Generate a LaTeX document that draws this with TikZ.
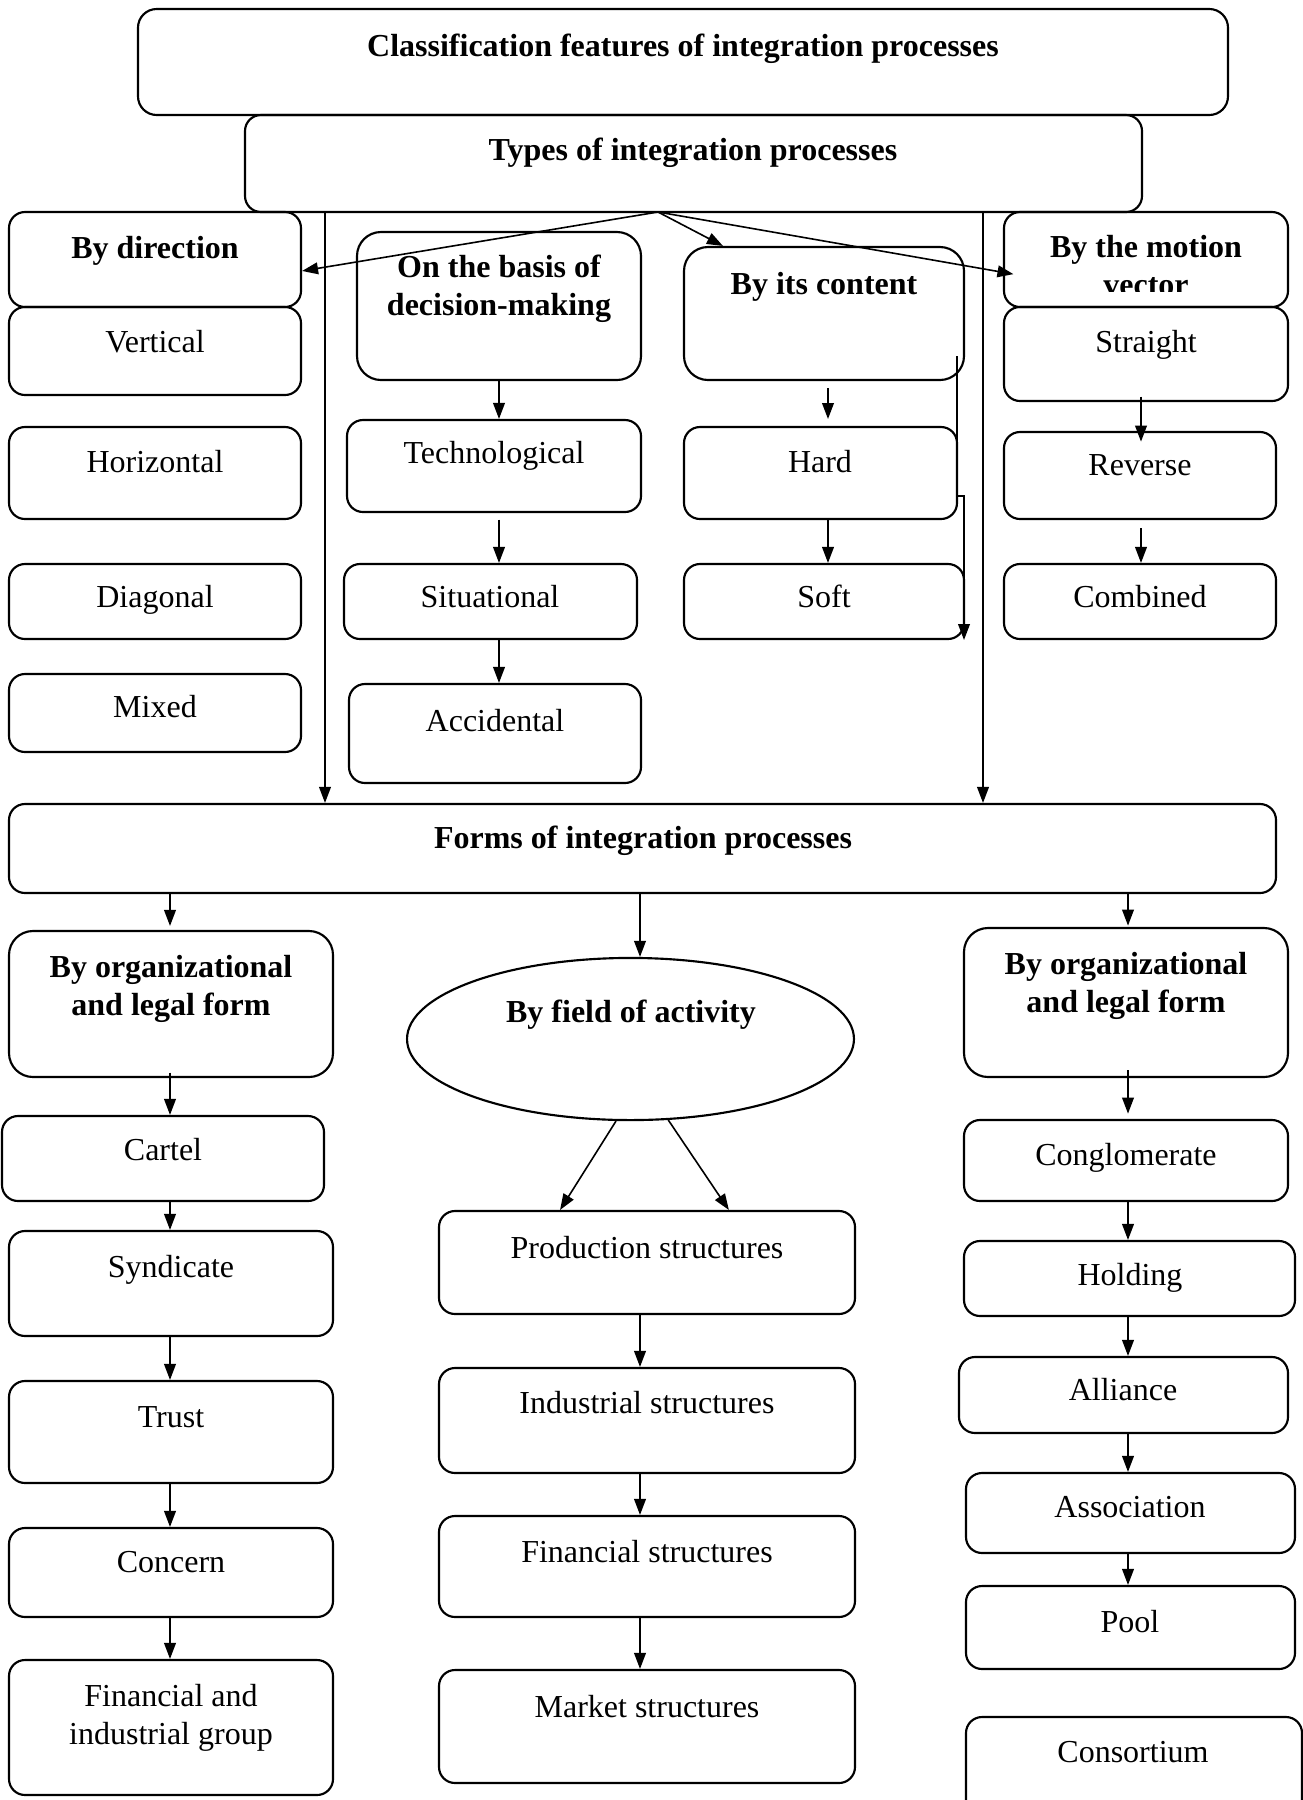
\documentclass[tikz,border=0pt]{standalone}
\usepackage{fontspec}
\setmainfont{Liberation Serif}
\usetikzlibrary{arrows.meta,fit,shapes.geometric}

\tikzset{every picture/.style={line width=0.5pt}}
\tikzset{
  box/.style={draw, line width=0.8pt, rounded corners=6pt, inner sep=0pt},
  bigbox/.style={box, rounded corners=9pt},
  txt/.style={anchor=base, inner sep=0pt, align=center, font=\fontsize{12}{13.9}\selectfont},
  head/.style={txt, font=\fontsize{12}{13.9}\selectfont\bfseries},
  arr/.style={-{Triangle[length=6pt,width=4.4pt]}, line width=0.6pt},
}

\begin{document}
\begin{tikzpicture}[x=0.375pt,y=0.375pt,yscale=-1,xscale=1]
    \useasboundingbox (0,0) rectangle (1303,1800);

    %Shape: top boxes
    \node[box, rounded corners=7pt, fit={(138,9)(1228,115)}] (cls) {};
    \node[box, fit={(245,115)(1142,212)}] (types) {};

    %Shape: by direction column
    \node[box, fit={(9,212)(301,307)}] (dir) {};
    \node[box, fit={(9,307)(301,395)}] (vert) {};
    \node[box, fit={(9,427)(301,519)}] (horiz) {};
    \node[box, fit={(9,564)(301,639)}] (diag) {};
    \node[box, fit={(9,674)(301,752)}] (mixed) {};

    %Shape: decision-making column
    \node[bigbox, fit={(357,232)(641,380)}] (basis) {};
    \node[box, fit={(347,420)(641,512)}] (tech) {};
    \node[box, fit={(344,564)(637,639)}] (sit) {};
    \node[box, fit={(349,684)(641,783)}] (acc) {};

    %Shape: content column
    \node[bigbox, fit={(684,247)(964,380)}] (cont) {};
    \node[box, fit={(684,427)(957,519)}] (hard) {};
    \node[box, fit={(684,564)(964,639)}] (soft) {};

    %Shape: motion vector column
    \node[box, fit={(1004,212)(1288,307)}] (motion) {};
    \node[box, fit={(1004,307)(1288,401)}] (straight) {};
    \node[box, fit={(1004,432)(1276,519)}] (rev) {};
    \node[box, fit={(1004,564)(1276,639)}] (comb) {};

    %Shape: forms
    \node[box, fit={(9,804)(1276,893)}] (forms) {};

    %Shape: left column
    \node[bigbox, fit={(9,931)(333,1077)}] (orgl) {};
    \node[box, fit={(2,1116)(324,1201)}] (cartel) {};
    \node[box, fit={(9,1231)(333,1336)}] (synd) {};
    \node[box, fit={(9,1381)(333,1483)}] (trust) {};
    \node[box, fit={(9,1528)(333,1617)}] (concern) {};
    \node[box, fit={(9,1660)(333,1795)}] (fig) {};

    %Shape: middle column
    \node[draw, ellipse, line width=0.8pt, inner sep=0pt, minimum width=167.6pt, minimum height=60.8pt] (field) at (630.5,1039) {};
    \node[box, fit={(439,1211)(855,1314)}] (prod) {};
    \node[box, fit={(439,1368)(855,1473)}] (ind) {};
    \node[box, fit={(439,1516)(855,1617)}] (fin) {};
    \node[box, fit={(439,1670)(855,1783)}] (market) {};

    %Shape: right column
    \node[bigbox, fit={(964,928)(1288,1077)}] (orgr) {};
    \node[box, fit={(964,1120)(1288,1201)}] (congl) {};
    \node[box, fit={(964,1241)(1295,1316)}] (hold) {};
    \node[box, fit={(959,1357)(1288,1433)}] (alli) {};
    \node[box, fit={(966,1473)(1295,1553)}] (assoc) {};
    \node[box, fit={(966,1586)(1295,1669)}] (pool) {};
    \node[box, fit={(966,1717)(1302,1830)}] (cons) {};

    % Text Node
    \node[head] at (683,56) {Classification features of integration processes};
    \node[head] at (693,160) {Types of integration processes};
    \node[head] at (155,258) {By direction};
    \node[txt] at (155,352) {Vertical};
    \node[txt] at (155,472) {Horizontal};
    \node[txt] at (155,607) {Diagonal};
    \node[txt] at (155,717) {Mixed};
    \node[head] at (499,315) {On the basis of\\decision-making};
    \node[txt] at (494,463) {Technological};
    \node[txt] at (490,607) {Situational};
    \node[txt] at (495,731) {Accidental};
    \node[head] at (824,294) {By its content};
    \node[txt] at (820,472) {Hard};
    \node[txt] at (824,607) {Soft};
    \begin{scope}
      \clip (1004,212) rectangle (1288,291);
      \node[head] at (1146,295) {By the motion\\vector};
    \end{scope}
    \node[txt] at (1146,352) {Straight};
    \node[txt] at (1140,475) {Reverse};
    \node[txt] at (1140,607) {Combined};
    \node[head] at (643,848) {Forms of integration processes};
    \node[head] at (171,1015) {By organizational\\and legal form};
    \node[head] at (631,1022) {By field of activity};
    \node[head] at (1126,1012) {By organizational\\and legal form};
    \node[txt] at (163,1160) {Cartel};
    \node[txt] at (171,1277) {Syndicate};
    \node[txt] at (171,1427) {Trust};
    \node[txt] at (171,1572) {Concern};
    \node[txt] at (171,1744) {Financial and\\industrial group};
    \node[txt] at (647,1258) {Production structures};
    \node[txt] at (647,1413) {Industrial structures};
    \node[txt] at (647,1562) {Financial structures};
    \node[txt] at (647,1717) {Market structures};
    \node[txt] at (1126,1165) {Conglomerate};
    \node[txt] at (1130,1285) {Holding};
    \node[txt] at (1123,1400) {Alliance};
    \node[txt] at (1130,1517) {Association};
    \node[txt] at (1130,1632) {Pool};
    \node[txt] at (1133,1762) {Consortium};

    %Connectors: from types
    \coordinate (hub) at (658,212);
    \coordinate (lx) at (325,0);
    \coordinate (rx) at (983,0);
    \draw[arr] (hub) -- ([yshift=4.3pt]dir.east);
    \draw[arr] (hub) -- ([xshift=15pt]cont.north west);
    \draw[arr, shorten >=-4pt] (hub) -- ([yshift=4.8pt]motion.west);
    \draw[arr] (types.south -| lx) -- (forms.north -| lx);
    \draw[arr] (types.south -| rx) -- (forms.north -| rx);

    %Connectors: upper columns
    \draw[arr] (basis.south) -- (basis.south |- tech.north);
    \draw[arr, shorten <=2.5pt] (basis.south |- tech.south) -- (basis.south |- sit.north);
    \draw[arr] (basis.south |- sit.south) -- (basis.south |- acc.north);
    \coordinate (cc) at (828,0);
    \draw[arr, shorten <=2.6pt, shorten >=2.6pt] (cont.south -| cc) -- (hard.north -| cc);
    \draw[arr] (hard.south -| cc) -- (soft.north -| cc);
    \coordinate (c1) at (957,356);
    \coordinate (c2) at (964,640);
    \draw[arr] (c1) -- ++(0,140) -- ++(7,0) -- (c2);
    \coordinate (mc) at (1141,0);
    \draw[arr, shorten <=-2pt, shorten >=-4pt] (straight.south -| mc) -- (rev.north -| mc);
    \draw[arr, shorten <=3pt] (rev.south -| mc) -- (comb.north -| mc);

    %Connectors: lower columns
    \coordinate (lc) at (170,0);
    \coordinate (mx) at (640,0);
    \coordinate (rc) at (1128,0);
    \draw[arr, shorten >=1.5pt] (forms.south -| lc) -- (orgl.north -| lc);
    \draw[arr] (forms.south -| mx) -- (field.north -| mx);
    \draw[arr, shorten >=0.5pt] (forms.south -| rc) -- (orgr.north -| rc);
    \draw[arr, shorten <=-2pt] (orgl.south -| lc) -- (cartel.north -| lc);
    \draw[arr] (cartel.south -| lc) -- (synd.north -| lc);
    \draw[arr] (synd.south -| lc) -- (trust.north -| lc);
    \draw[arr] (trust.south -| lc) -- (concern.north -| lc);
    \draw[arr] (concern.south -| lc) -- (fig.north -| lc);
    \draw[arr] (field.260) -- ([xshift=-32.6pt]prod.north);
    \draw[arr] (field.295) -- ([xshift=30.7pt]prod.north);
    \draw[arr] (prod.south -| mx) -- (ind.north -| mx);
    \draw[arr] (ind.south -| mx) -- (fin.north -| mx);
    \draw[arr] (fin.south -| mx) -- (market.north -| mx);
    \draw[arr, shorten <=-3pt, shorten >=2pt] (orgr.south -| rc) -- (congl.north -| rc);
    \draw[arr] (congl.south -| rc) -- (hold.north -| rc);
    \draw[arr] (hold.south -| rc) -- (alli.north -| rc);
    \draw[arr] (alli.south -| rc) -- (assoc.north -| rc);
    \draw[arr] (assoc.south -| rc) -- (pool.north -| rc);
\end{tikzpicture}
\end{document}
